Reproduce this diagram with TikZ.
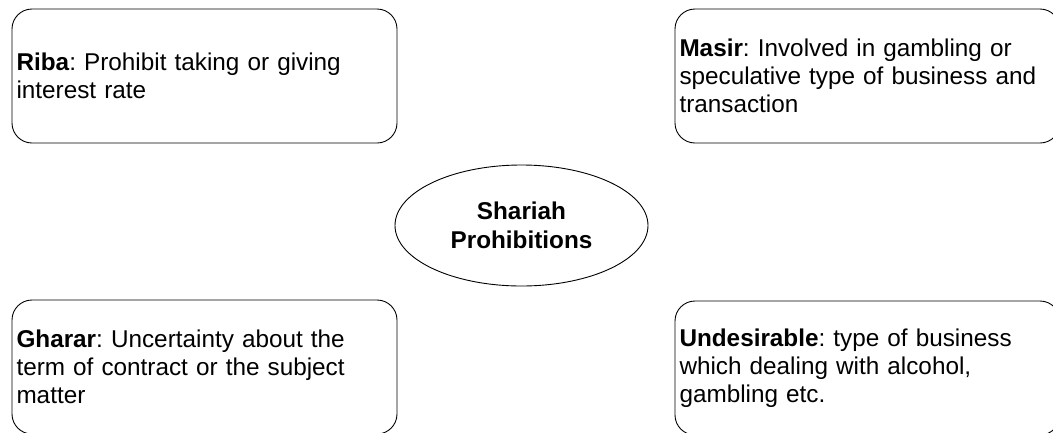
\documentclass[tikz,border=0pt]{standalone}
\usepackage{fontspec}
\setmainfont{Liberation Sans}
\usetikzlibrary{shapes.geometric}
\frenchspacing

\begin{document}
\begin{tikzpicture}[x=1pt, y=-1pt,
  rulebox/.style={draw, line width=0.9pt, rounded corners=20pt, minimum width=385pt, minimum height=134pt,
    text width=376pt, inner xsep=4.5pt, inner ysep=0pt, align=left, font=\fontsize{24.3}{27.8}\selectfont},
  centreoval/.style={draw, line width=0.9pt, ellipse, minimum width=253pt, minimum height=121pt,
    inner sep=0pt, align=center, font=\bfseries\fontsize{24.3}{28.5}\selectfont}]
\useasboundingbox (0,0) rectangle (1053,432);
% centre of the map
\node[centreoval] (shariah) at (521.5,225.5) {Shariah\\Prohibitions};
% the four prohibitions
\node[rulebox] (riba) at (204.5,76) {\textbf{Riba}: Prohibit taking or giving\\interest rate};
\node[rulebox] (masir) at (867.5,76) {\textbf{Masir}: Involved in gambling or\\speculative type of business and\\transaction};
\node[rulebox] (gharar) at (204.5,367) {\textbf{Gharar}: Uncertainty about the\\term of contract or the subject\\matter};
\node[rulebox] (undesirable) at (867.5,368) {\textbf{Undesirable}: type of business\\which dealing with alcohol,\\gambling etc.};
\end{tikzpicture}
\end{document}
